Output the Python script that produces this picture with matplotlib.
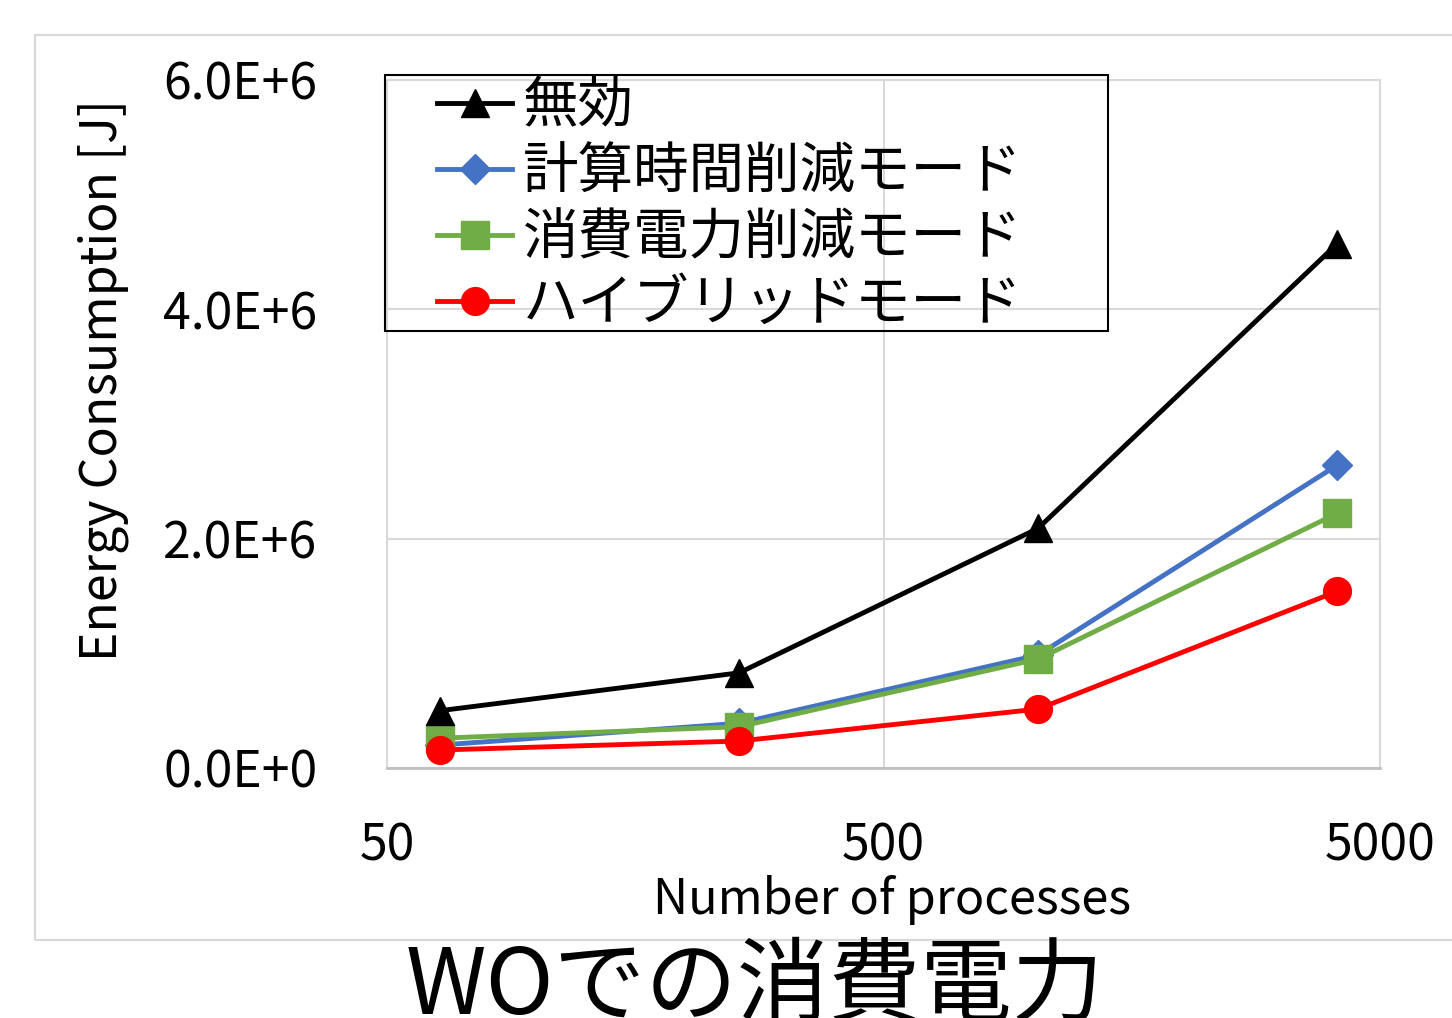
import numpy as np
import matplotlib
matplotlib.use('Agg')
import matplotlib.pyplot as plt
from matplotlib.patches import Rectangle

plt.rcParams['font.family'] = ['Noto Sans CJK JP', 'DejaVu Sans']

# data
procs = [64, 256, 1024, 4096]
off_mode = [0.50e6, 0.83e6, 2.09e6, 4.57e6]
time_mode = [0.20e6, 0.39e6, 0.985e6, 2.64e6]
power_mode = [0.26e6, 0.36e6, 0.95e6, 2.22e6]
hybrid_mode = [0.157e6, 0.235e6, 0.514e6, 1.54e6]

labels = ['無効', '計算時間削減モード', '消費電力削減モード', 'ハイブリッドモード']
x_ticks = [50, 500, 5000]
x_ticklabels = ['50', '500', '5000']
y_ticks = [0, 2e6, 4e6, 6e6]
y_ticklabels = ['0.0E+0', '2.0E+6', '4.0E+6', '6.0E+6']

W, H = 1452, 1018
fig = plt.figure(figsize=(W / 100, H / 100), dpi=100)
ax = fig.add_axes([387 / W, 1 - 768 / H, (1380 - 387) / W, (768 - 80) / H])

grey = '#d9d9d9'

# outer chart-area border
fig.patches.append(Rectangle((35 / W, 1 - 940 / H), 1.2, (940 - 35) / H,
                             transform=fig.transFigure, fill=False,
                             edgecolor=grey, linewidth=1.6))

ax.plot(procs, off_mode, color='black', lw=3.5, marker='^', ms=20, label=labels[0], zorder=5)
ax.plot(procs, time_mode, color='#4472C4', lw=3.5, marker='D', ms=15, label=labels[1], zorder=4)
ax.plot(procs, power_mode, color='#70AD47', lw=3.5, marker='s', ms=20, label=labels[2], zorder=4)
ax.plot(procs, hybrid_mode, color='#FF0000', lw=3.5, marker='o', ms=20, label=labels[3], zorder=4)

ax.set_xscale('log')
ax.set_xlim(50, 5000)
ax.set_ylim(0, 6e6)
ax.set_xticks(x_ticks)
ax.set_xticklabels(x_ticklabels)
ax.xaxis.set_minor_locator(matplotlib.ticker.NullLocator())
ax.set_yticks(y_ticks)
ax.set_yticklabels(y_ticklabels)
ax.tick_params(axis='both', length=0, labelsize=36)
ax.tick_params(axis='x', pad=38)
ax.tick_params(axis='y', pad=50)

ax.grid(True, color=grey, lw=1.5)
ax.set_axisbelow(True)
for side in ['left', 'right', 'top']:
    ax.spines[side].set_color(grey)
    ax.spines[side].set_linewidth(1.5)
ax.spines['bottom'].set_color('#bfbfbf')
ax.spines['bottom'].set_linewidth(2)

fig.text(892 / W, 1 - 900 / H, 'Number of processes', fontsize=35, ha='center', va='center')
fig.text(103 / W, 1 - 380 / H, 'Energy Consumption [J]', fontsize=36,
         rotation=90, ha='center', va='center')

# legend: frame drawn separately so it can be wider than its contents
fig.patches.append(Rectangle((385 / W, 1 - 331 / H), (1108 - 385) / W, (331 - 75) / H,
                             transform=fig.transFigure, fill=False,
                             edgecolor='black', linewidth=1.5, zorder=6))
leg = ax.legend(loc='upper left', bbox_to_anchor=(437 / W, 1 - 78 / H),
                bbox_transform=fig.transFigure, frameon=False, fontsize=40,
                borderpad=0, borderaxespad=0, handlelength=1.35,
                handletextpad=0.2, labelspacing=0.15)
leg.set_zorder(7)

fig.text(755 / W, 1 - 988 / H, 'WOでの消費電力', fontsize=66, ha='center', va='center')

fig.savefig('out.png', dpi=100)
